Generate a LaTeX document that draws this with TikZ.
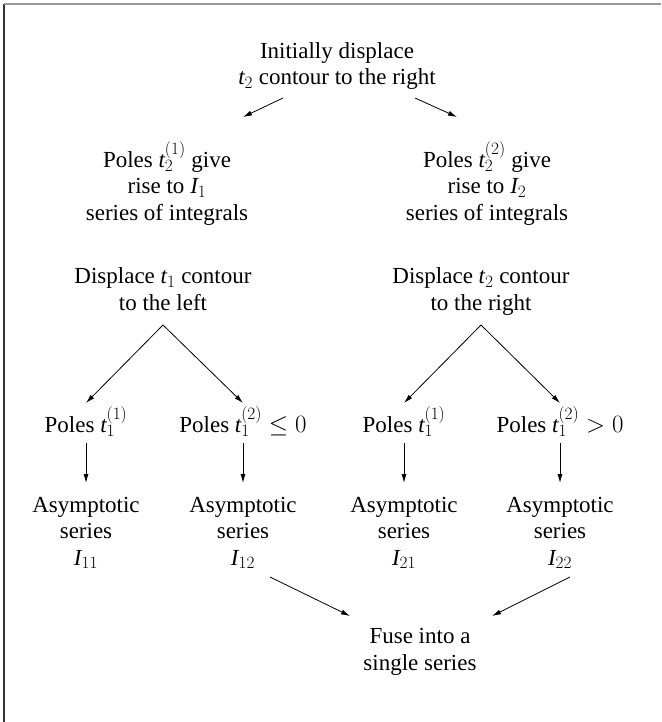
\documentclass[tikz,border=0pt]{standalone}
\usepackage{fontspec}
\setmainfont{Liberation Serif}
\usetikzlibrary{arrows.meta,calc}
\DeclareSymbolFont{tnum}{TU}{\rmdefault}{m}{n}
\DeclareMathSymbol{0}{\mathord}{tnum}{`0}
\DeclareMathSymbol{1}{\mathord}{tnum}{`1}
\DeclareMathSymbol{2}{\mathord}{tnum}{`2}
\DeclareMathSymbol{(}{\mathopen}{tnum}{`(}
\DeclareMathSymbol{)}{\mathclose}{tnum}{`)}
\newcommand{\vi}[1]{\mathit{#1}}
\begin{document}
\begin{tikzpicture}[x=1pt,y=-1pt,
  txt/.style={align=center,inner sep=0pt,anchor=base,font=\fontsize{23}{26.5}\selectfont},
  arr/.style={line width=0.8pt,-{Latex[length=9pt,width=5pt]}}]
\useasboundingbox (0,0) rectangle (661,722);
\draw[line width=1.3pt,black!80] (4,722) -- (4,4);
\draw[line width=1.3pt,black!40] (4,4) -- (661,4);
% base anchor = baseline of the last line
\node[txt] (title) at (337,85) {Initially displace\\$\vi{t}_2$ contour to the right};
\node[txt] (p1) at (167,220) {Poles $\vi{t}_2^{(1)}$ give\\rise to $\vi{I}_1$\\series of integrals};
\node[txt] (p2) at (487,220) {Poles $\vi{t}_2^{(2)}$ give\\rise to $\vi{I}_2$\\series of integrals};
\node[txt] (d1) at (163,310) {Displace $\vi{t}_1$ contour\\to the left};
\node[txt] (d2) at (481,310) {Displace $\vi{t}_2$ contour\\to the right};
\node[txt] (r1) at (86,432) {Poles $\vi{t}_1^{(1)}$};
\node[txt] (r2) at (243,432) {Poles $\vi{t}_1^{(2)}\le 0$};
\node[txt] (r3) at (404,432) {Poles $\vi{t}_1^{(1)}$};
\node[txt] (r4) at (560,432) {Poles $\vi{t}_1^{(2)}>0$};
\node[txt] (a1) at (86,565) {Asymptotic\\series\\$\vi{I}_{11}$};
\node[txt] (a2) at (243,565) {Asymptotic\\series\\$\vi{I}_{12}$};
\node[txt] (a3) at (404,565) {Asymptotic\\series\\$\vi{I}_{21}$};
\node[txt] (a4) at (560,565) {Asymptotic\\series\\$\vi{I}_{22}$};
\node[txt] (fuse) at (420,670) {Fuse into a\\single series};
\draw[arr] ($(title.base)+(-54,13)$) -- ($(p1.base)+(76,-103)$);
\draw[arr] ($(title.base)+(78,13)$) -- ($(p2.base)+(-30,-103)$);
\draw[arr] ($(d1.base)+(0,15)$) -- ($(r1.base)+(0,-29)$);
\draw[arr] ($(d1.base)+(0,15)$) -- ($(r2.base)+(0,-29)$);
\draw[arr] ($(d2.base)+(0,15)$) -- ($(r3.base)+(0,-29)$);
\draw[arr] ($(d2.base)+(0,15)$) -- ($(r4.base)+(0,-29)$);
\foreach \r/\a in {r1/a1,r2/a2,r3/a3,r4/a4}
  \draw[arr] ($(\r.base)+(0,11)$) -- ($(\a.base)+(0,-82)$);
\draw[arr] ($(a2.base)+(27,12)$) -- ($(fuse.base)+(-70,-54)$);
\draw[arr] ($(a4.base)+(10,12)$) -- ($(fuse.base)+(72,-54)$);
\end{tikzpicture}
\end{document}
